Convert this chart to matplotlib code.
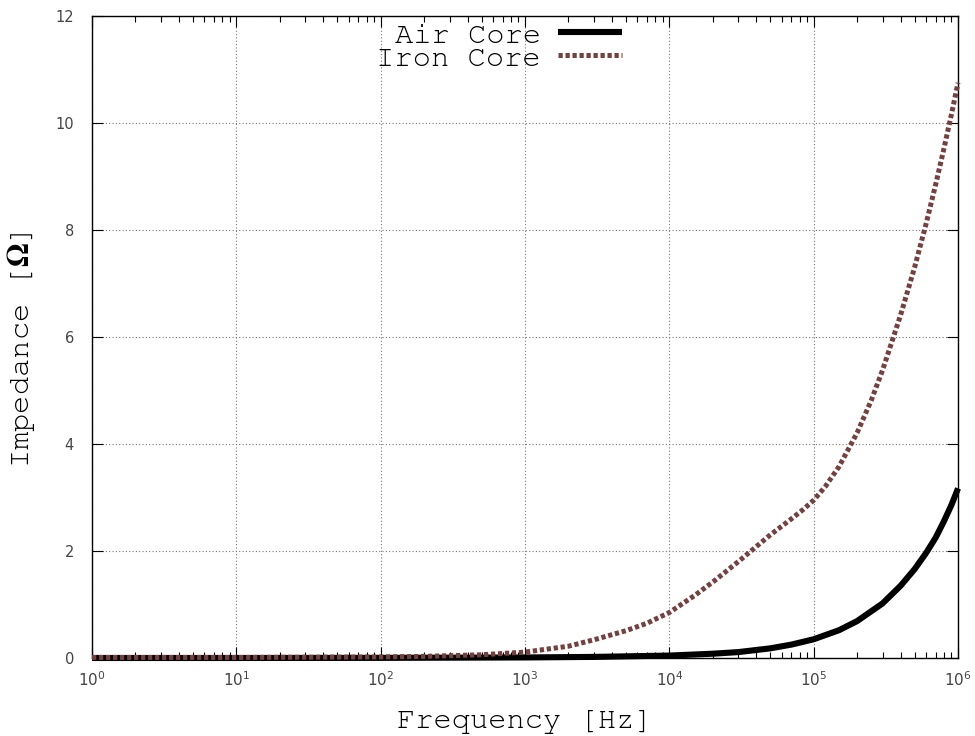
#!/usr/bin/env python3

import matplotlib.pyplot as plt
from matplotlib import font_manager
from matplotlib.ticker import LogLocator, LogFormatterMathtext, MultipleLocator, NullFormatter

# impedance vs frequency for the two coils
freq_air = [1, 10, 1e2, 1e3, 3e3, 1e4, 2e4, 3e4, 5e4, 7e4, 1e5, 1.5e5, 2e5,
            3e5, 4e5, 5e5, 6e5, 7e5, 8e5, 9e5, 1e6]
z_air = [0.0, 0.0, 0.002, 0.01, 0.02, 0.045, 0.08, 0.11, 0.18, 0.25, 0.35,
         0.52, 0.69, 1.02, 1.35, 1.66, 1.96, 2.25, 2.56, 2.86, 3.17]

freq_iron = [1, 10, 1e2, 2e2, 5e2, 1e3, 2e3, 3e3, 5e3, 7e3, 1e4, 1.5e4, 2e4,
             3e4, 5e4, 7e4, 8.5e4, 1e5, 1.2e5, 1.5e5, 2e5, 2.5e5, 3e5, 4e5,
             5e5, 6e5, 7e5, 8e5, 9e5, 1e6]
z_iron = [0.01, 0.01, 0.02, 0.03, 0.06, 0.11, 0.22, 0.34, 0.51, 0.65, 0.85,
          1.17, 1.42, 1.8, 2.3, 2.6, 2.78, 2.95, 3.2, 3.58, 4.21, 4.81, 5.38,
          6.41, 7.3, 8.11, 8.85, 9.53, 10.16, 10.75]

labels = ["Air Core", "Iron Core"]

# prefer a Courier-style face, fall back to Liberation Mono
installed = {f.name for f in font_manager.fontManager.ttflist}
label_font = next((name for name in ["Courier New", "Nimbus Mono PS", "FreeMono",
                                     "Courier", "Liberation Mono"]
                   if name in installed), "DejaVu Sans Mono")
tick_color = "#444444"

# serif bold omega in the y label
plt.rcParams["mathtext.fontset"] = "stix"

fig = plt.figure(figsize=(9.75, 7.36), dpi=100)
ax = fig.add_axes([0.0944, 0.106, 0.8882, 0.8723])

ax.plot(freq_air, z_air, color="black", lw=4.4, solid_capstyle="butt",
        clip_on=False, label=labels[0], zorder=3)
ax.plot(freq_iron, z_iron, color="#76403f", lw=3.6, dashes=(0.85, 0.55),
        dash_capstyle="butt", clip_on=False, label=labels[1], zorder=4)

ax.set_xscale("log")
ax.set_xlim(1, 1e6)
ax.set_ylim(0, 12)

ax.xaxis.set_major_locator(LogLocator(base=10, numticks=10))
ax.xaxis.set_minor_locator(LogLocator(base=10, subs=range(2, 10), numticks=10))
ax.xaxis.set_major_formatter(LogFormatterMathtext())
ax.xaxis.set_minor_formatter(NullFormatter())
ax.yaxis.set_major_locator(MultipleLocator(2))

ax.tick_params(which="both", direction="in", top=True, right=True,
               color="black", width=0.8)
ax.tick_params(which="major", length=8, labelsize=10.5, labelcolor=tick_color)
ax.tick_params(axis="x", which="major", pad=9, labelsize=11)
ax.tick_params(axis="y", which="major", pad=13)
ax.tick_params(which="minor", length=4.5)

ax.grid(True, which="major", color="#777777", lw=0.8, linestyle=(0, (1, 2)))
ax.set_axisbelow(True)
for spine in ax.spines.values():
    spine.set_linewidth(1.0)

ax.set_xlabel("Frequency [Hz]", fontsize=22, family=label_font, labelpad=15)
ax.set_ylabel(r"Impedance [$\mathbf{\Omega}$]", fontsize=22, family=label_font,
              labelpad=13)
ax.yaxis.label.set_y(0.48)

ax.legend(loc="upper center", bbox_to_anchor=(0.47, 1.01), frameon=False,
          markerfirst=False, prop={"family": label_font, "size": 22},
          handlelength=2.1, handletextpad=0.55, labelspacing=-0.15,
          borderaxespad=0)

fig.savefig("out.png", dpi=100, facecolor="white")
